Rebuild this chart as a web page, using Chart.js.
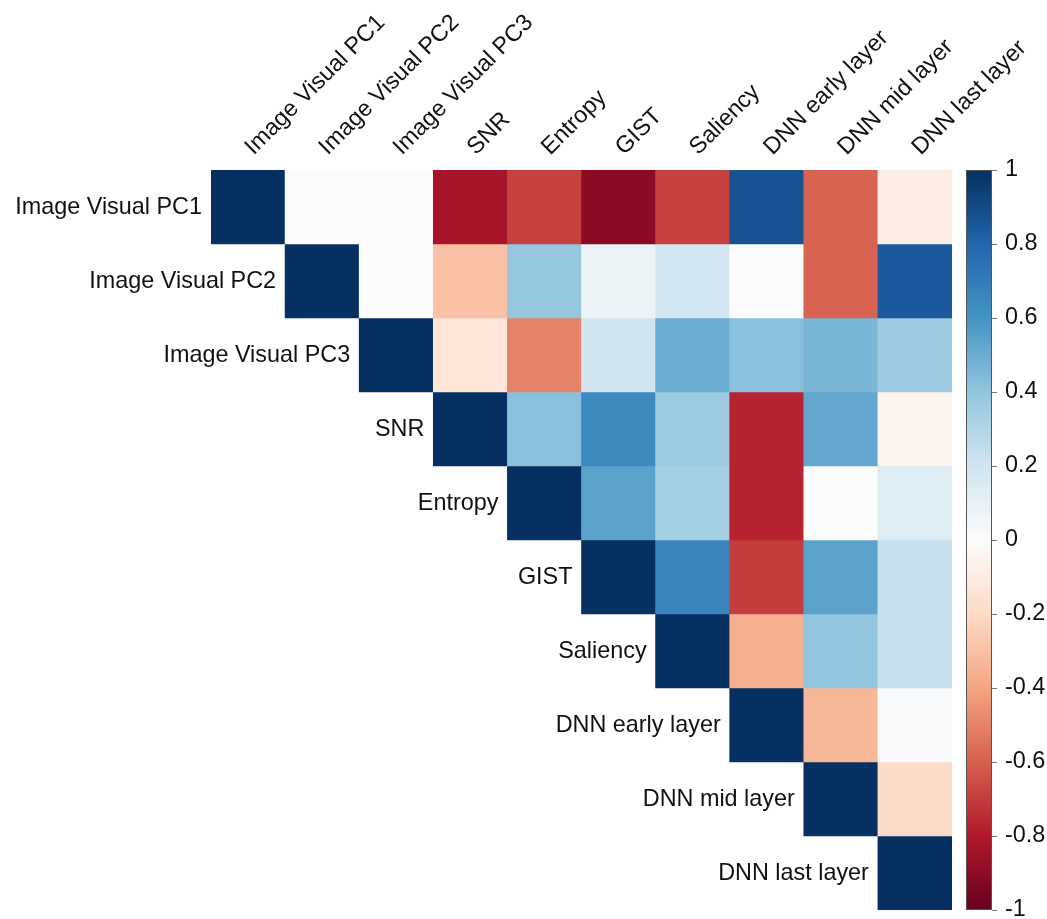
<!DOCTYPE html>
<html>
<head>
<meta charset="utf-8">
<script src="https://cdn.jsdelivr.net/npm/chart.js@4.4.1/dist/chart.umd.min.js"></script>
<style>
  html, body { margin: 0; padding: 0; background: #ffffff; }
  canvas { display: block; }
</style>
</head>
<body>
<canvas id="heatmap" width="1047" height="919"></canvas>
<script>
// Feature names, in row/column order
const variables = [
  'Image Visual PC1', 'Image Visual PC2', 'Image Visual PC3', 'SNR', 'Entropy',
  'GIST', 'Saliency', 'DNN early layer', 'DNN mid layer', 'DNN last layer'
];

// Pearson correlations, upper triangle (null = masked lower triangle)
const corrPC1      = [1,    0,    0,     -0.83, -0.69, -0.91, -0.69,  0.87, -0.59, -0.09];
const corrPC2      = [null, 1,    0,     -0.30,  0.39,  0.08,  0.19,  0.00, -0.59,  0.84];
const corrPC3      = [null, null, 1,     -0.14, -0.50,  0.20,  0.50,  0.42,  0.46,  0.36];
const corrSNR      = [null, null, null,   1,     0.42,  0.64,  0.37, -0.77,  0.52, -0.05];
const corrEntropy  = [null, null, null,   null,  1,     0.54,  0.34, -0.77,  0.01,  0.14];
const corrGIST     = [null, null, null,   null,  null,  1,     0.66, -0.70,  0.54,  0.23];
const corrSaliency = [null, null, null,   null,  null,  null,  1,    -0.36,  0.40,  0.23];
const corrDNNEarly = [null, null, null,   null,  null,  null,  null,  1,    -0.33,  0.02];
const corrDNNMid   = [null, null, null,   null,  null,  null,  null,  null,  1,    -0.19];
const corrDNNLast  = [null, null, null,   null,  null,  null,  null,  null,  null,  1];

const corrRows = [corrPC1, corrPC2, corrPC3, corrSNR, corrEntropy,
                  corrGIST, corrSaliency, corrDNNEarly, corrDNNMid, corrDNNLast];

// Colour bar tick values
const colorbarTicks = [-1, -0.8, -0.6, -0.4, -0.2, 0, 0.2, 0.4, 0.6, 0.8, 1];

// Diverging red-blue palette, from -1 to +1
const rdbu = [
  [103, 0, 31], [178, 24, 43], [214, 96, 77], [244, 165, 130], [253, 219, 199],
  [252, 252, 252],
  [209, 229, 240], [146, 197, 222], [67, 147, 195], [33, 102, 172], [5, 48, 97]
];

function colorFor(v) {
  const t = Math.max(0, Math.min(1, (v + 1) / 2)) * (rdbu.length - 1);
  const k = Math.min(rdbu.length - 2, Math.floor(t));
  const f = t - k;
  const a = rdbu[k], b = rdbu[k + 1];
  const c = a.map((x, i) => Math.round(x + (b[i] - x) * f));
  return `rgb(${c[0]},${c[1]},${c[2]})`;
}

const FONT = 'Liberation Sans, Arial, Helvetica, sans-serif';
const FONT_SIZE = 23.4;
const TEXT = '#111111';

// One floating-bar dataset per row: each cell spans [row, row + 1] on the y scale
const datasets = corrRows.map((row, i) => ({
  label: variables[i],
  data: row.map(v => (v === null ? null : [i, i + 1])),
  backgroundColor: row.map(v => (v === null ? 'rgba(0,0,0,0)' : colorFor(v))),
  borderWidth: 0,
  borderSkipped: false,
  barPercentage: 1,
  categoryPercentage: 1,
  grouped: false,
  xAxisID: 'x',
  yAxisID: 'y'
}));

// Row names, right-aligned just left of each diagonal cell
const rowLabels = {
  id: 'rowLabels',
  afterDraw(chart) {
    const { ctx, scales: { x, y } } = chart;
    const half = (x.getPixelForValue(1) - x.getPixelForValue(0)) / 2;
    ctx.save();
    ctx.font = `${FONT_SIZE}px ${FONT}`;
    ctx.fillStyle = TEXT;
    ctx.textAlign = 'right';
    ctx.textBaseline = 'middle';
    variables.forEach((name, i) => {
      ctx.fillText(name, x.getPixelForValue(i) - half - 9, y.getPixelForValue(i + 0.5) + 1);
    });
    ctx.restore();
  }
};

// Colour bar drawn alongside the 'cb' scale
const colorBar = {
  id: 'colorBar',
  afterDraw(chart) {
    const { ctx, chartArea, scales: { cb } } = chart;
    const x0 = chartArea.right + 14;
    const w = 26;
    const top = cb.getPixelForValue(1);
    const bot = cb.getPixelForValue(-1);
    const grad = ctx.createLinearGradient(0, bot, 0, top);
    rdbu.forEach((c, k) => grad.addColorStop(k / (rdbu.length - 1), `rgb(${c[0]},${c[1]},${c[2]})`));
    ctx.save();
    ctx.fillStyle = grad;
    ctx.fillRect(x0, top, w, bot - top);
    ctx.strokeStyle = '#555555';
    ctx.lineWidth = 1;
    ctx.strokeRect(x0 + 0.5, top + 0.5, w - 1, bot - top - 1);
    ctx.strokeStyle = '#777777';
    colorbarTicks.forEach(v => {
      const py = Math.round(cb.getPixelForValue(v)) + 0.5;
      ctx.beginPath();
      ctx.moveTo(x0 + w, py);
      ctx.lineTo(x0 + w + 5, py);
      ctx.stroke();
    });
    ctx.restore();
  }
};

new Chart(document.getElementById('heatmap'), {
  type: 'bar',
  data: { labels: variables, datasets },
  options: {
    responsive: false,
    animation: false,
    events: [],
    layout: { padding: { left: 211, right: 0, top: 0, bottom: 9 } },
    plugins: {
      legend: { display: false },
      tooltip: { enabled: false }
    },
    scales: {
      x: {
        type: 'category',
        position: 'top',
        offset: true,
        grid: { display: false, drawTicks: false },
        border: { display: false },
        ticks: {
          autoSkip: false,
          minRotation: 45,
          maxRotation: 45,
          padding: 9,
          labelOffset: 21,
          color: TEXT,
          font: { family: FONT, size: FONT_SIZE }
        },
        afterFit(scale) { scale.height = 170; }
      },
      y: {
        type: 'linear',
        min: 0,
        max: 10,
        reverse: true,
        display: false
      },
      cb: {
        type: 'linear',
        position: 'right',
        min: -1,
        max: 1,
        grid: { display: false, drawTicks: false },
        border: { display: false },
        afterBuildTicks(scale) {
          scale.ticks = colorbarTicks.map(v => ({ value: v }));
        },
        ticks: {
          padding: 53,
          color: TEXT,
          font: { family: FONT, size: FONT_SIZE },
          callback: v => String(Math.round(v * 10) / 10)
        },
        afterFit(scale) {
          scale.width = 95;
          scale.paddingTop = 0;
          scale.paddingBottom = 0;
        }
      }
    }
  },
  plugins: [rowLabels, colorBar]
});
</script>
</body>
</html>
